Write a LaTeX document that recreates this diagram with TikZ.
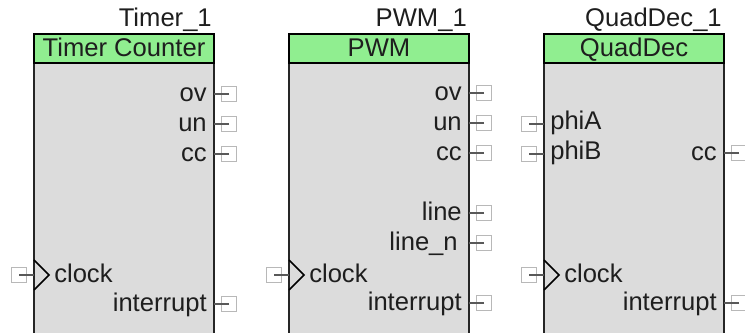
\documentclass[tikz,border=0pt]{standalone}
\usepackage{fontspec}
\setmainfont{Liberation Sans}
\definecolor{titlegreen}{RGB}{144,238,144}
\definecolor{bodygray}{RGB}{220,220,220}
\definecolor{textgray}{RGB}{30,30,30}
\tikzset{
  title/.style={draw=black, line width=1.5pt, fill=titlegreen, minimum width=135pt, minimum height=21.75pt, inner sep=0, outer sep=0},
  body/.style={fill=bodygray, minimum width=135pt, minimum height=202.5pt, inner sep=0, outer sep=0},
  pinbox/.style={draw=black!28, fill=white, line width=.9pt, minimum size=11.5pt, inner sep=0, outer sep=0},
  pinlabel/.style={text=textgray, inner sep=0, font=\fontsize{19.2}{19.2}\selectfont},
  pinwire/.style={draw=black!65, line width=.8pt}
}
\begin{document}
\begin{tikzpicture}[x=.75pt, y=-.75pt]
    \useasboundingbox (0,0) rectangle (745,334);
    \def \w {180}
    % blocks
    \foreach \b/\x/\inst/\type in {1/34/Timer\_1/Timer Counter, 2/289/PWM\_1/PWM, 3/544/QuadDec\_1/QuadDec}
    {
      \node[body, anchor=north west] (body\b) at (\x,63) {};
      \draw[line width=1.5pt, black!85] (body\b.north west) -- (body\b.south west);
      \draw[line width=1.5pt, black!85] (body\b.north east) -- (body\b.south east);
      \node[title, anchor=north west] (title\b) at (\x,34) {};
      \node[pinlabel, anchor=base] (type\b) at ({\x+\w/2},56.5) {\type};
      \node[pinlabel, anchor=base east] (inst\b) at ({\x+\w-2},27) {\inst};
      % clock pin
      \node[pinbox] (clkport\b) at ({\x-15},275) {};
      \coordinate (clktop\b) at (\x,260);
      \coordinate (clktip\b) at ({\x+15},275);
      \coordinate (clkbot\b) at (\x,290);
      \draw[pinwire] (clkport\b.center) -- (clkport\b.center -| body\b.west);
      \draw[line width=1.3pt] (clktop\b) -- (clktip\b) -- (clkbot\b);
      \node[pinlabel, anchor=base west] (clklabel\b) at ({\x+20},282) {clock};
    }
    % outputs
    \foreach \i/\b/\r/\lbl/\py in {1/1/214/ov/94, 2/1/214/un/124, 3/1/214/cc/154, 4/1/214/interrupt/304,
      5/2/469/ov/93, 6/2/469/un/123, 7/2/469/cc/153, 8/2/469/line/213, 9/2/469/line\_n\kern3pt/243, 10/2/469/interrupt/303,
      11/3/724/cc/153, 12/3/724/interrupt/303}
    {
      \node[pinbox] (outport\i) at ({\r+15},\py) {};
      \draw[pinwire] (outport\i.center) -- (outport\i.center -| body\b.east);
      \node[pinlabel, anchor=base east] (outlabel\i) at ({\r-7},{\py+7.5}) {\lbl};
    }
    % inputs
    \foreach \i/\py/\lbl in {1/124/phiA, 2/154/phiB}
    {
      \node[pinbox] (inport\i) at (529,\py) {};
      \draw[pinwire] (inport\i.center) -- (inport\i.center -| body3.west);
      \node[pinlabel, anchor=base west] (inlabel\i) at (550,{\py+6}) {\lbl};
    }
\end{tikzpicture}
\end{document}
